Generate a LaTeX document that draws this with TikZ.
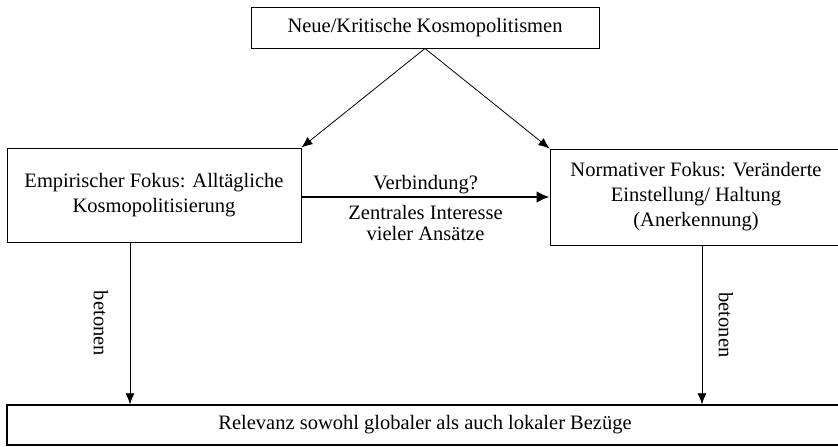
\documentclass[tikz,border=0pt]{standalone}
\usepackage{fontspec}
\setmainfont{Liberation Serif}
\usetikzlibrary{arrows.meta,positioning}
\tikzset{every picture/.style={/utils/exec={\fontsize{20.5}{25}\selectfont}}}

\begin{document}
\begin{tikzpicture}[x=1pt,y=-1pt]
  \tikzstyle{box} = [rectangle, draw=black, line width=1pt, align=center, inner sep=0pt]
  \tikzstyle{arrow} = [-{Latex[length=11pt,width=9pt]}, line width=0.8pt]
  \tikzstyle{bigarrow} = [-{Latex[length=13pt,width=12pt]}, line width=2.5pt]

  \useasboundingbox (0,0) rectangle (838,447);

  \node (kosmo) [box, minimum width=348pt, minimum height=41pt] at (425,27.5) {Neue/Kritische Kosmopolitismen};
  \node (empir) [box, minimum width=294pt, minimum height=94pt] at (154,195) {Empirischer Fokus: Alltägliche\\Kosmopolitisierung};
  \node (norm) [box, minimum width=292pt, minimum height=96pt] at (696,197) {Normativer Fokus: Veränderte\\Einstellung/ Haltung\\(Anerkennung)};
  \node (relev) [box, line width=1.4pt, minimum width=836pt, minimum height=40pt] at (425,425) {Relevanz sowohl globaler als auch lokaler Bezüge};

  \coordinate (lbet) at (130,0);
  \coordinate (rbet) at (702,0);

  \draw [arrow] (kosmo.south) -- (empir.north east);
  \draw [arrow] (kosmo.south) -- (norm.north west);
  % link between the two foci
  \draw [bigarrow] (empir.east |- norm.west) -- (norm.west)
    node (verb) [midway, above, inner sep=2pt] {Verbindung?}
    node (zentr) [midway, below=7pt, inner sep=0pt, align=center, font=\fontsize{20.5}{21}\selectfont] {Zentrales Interesse\\vieler Ansätze};
  \draw [arrow] (empir.south -| lbet) -- (relev.north -| lbet)
    node (lbeton) [midway, rotate=-90, yshift=-29pt] {betonen};
  \draw [arrow] (norm.south -| rbet) -- (relev.north -| rbet)
    node (rbeton) [midway, rotate=-90, yshift=24pt] {betonen};
\end{tikzpicture}
\end{document}
